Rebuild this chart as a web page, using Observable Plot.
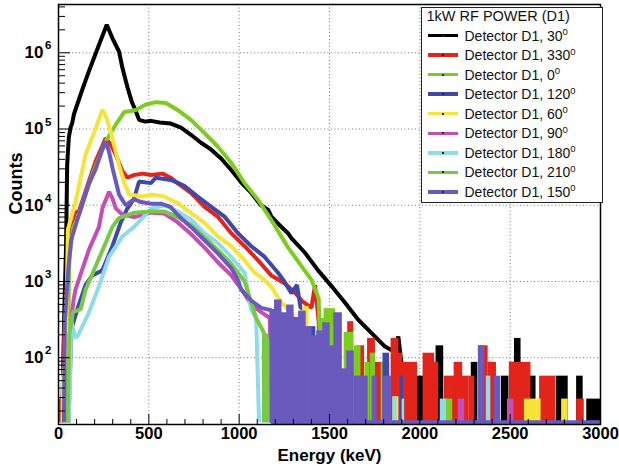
<!DOCTYPE html>
<html><head><meta charset="utf-8">
<script src="https://cdn.jsdelivr.net/npm/d3@7"></script>
<script src="https://cdn.jsdelivr.net/npm/@observablehq/plot@0.6"></script>
<style>
body{margin:0;background:#fff;}
#wrap{position:relative;width:619px;height:475px;font-family:"Liberation Sans",Arial,Helvetica,sans-serif;}
#legend{position:absolute;left:421px;top:7px;width:182px;height:196px;box-sizing:border-box;border:1.5px solid #222;background:#fff;color:#111;}
#legend .title{position:absolute;left:4.5px;top:0px;font-size:14.5px;line-height:16px;white-space:nowrap;}
#legend .row{position:absolute;left:0;height:16px;width:100%;}
#legend .sw{position:absolute;left:5.5px;width:30px;height:3.5px;top:6.25px;}
#legend .dot{position:absolute;left:14px;top:0.75px;width:2px;height:2px;background:#222;}
#legend .lab{position:absolute;left:42.5px;top:0;font-size:14px;line-height:16px;white-space:nowrap;}
#legend .lab span{font-size:9.5px;position:relative;top:-5.5px;}
</style></head><body><div id="wrap"></div>
<script>
// ---- categories / labels ----
const legendTitle = "1kW RF POWER (D1)";
const angles = [30, 330, 0, 120, 60, 90, 180, 210, 150];
const colors = ["#000000", "#e3241b", "#7ccd1e", "#3d48ad", "#f7e438", "#c64db5", "#8fdbe9", "#78c943", "#6a5abd"];
const xMajorTicks = [0, 500, 1000, 1500, 2000, 2500, 3000];
const yMajorTicks = [1e2, 1e3, 1e4, 1e5, 1e6];

// ---- series: main spectrum [energy keV, counts] ----
const s30 = [[20,0],[25,56],[32,400],[42,3000],[48,34000],[57,77000],[67,105000],[76,120000],[85,155000],[130,320000],[168,570000],[220,1200000],[267,2330000],[298,1560000],[335,1040000],[354,630000],[382,350000],[405,230000],[424,180000],[446,132000],[480,125000],[511,128000],[560,122000],[622,118000],[678,104000],[733,84000],[789,66000],[844,54000],[900,41000],[956,29000],[1011,20000],[1067,14500],[1120,10000],[1161,8700],[1178,7100],[1220,5600],[1270,4300],[1289,3700],[1363,2400],[1437,1400],[1511,870],[1585,530],[1659,315],[1733,210],[1807,140],[1860,120],[1881,190],[1900,78],[1905,0]];
const s330 = [[12,0],[12,28],[24,28],[30,150],[45,800],[55,1500],[67,4400],[90,8000],[113,8300],[168,20500],[206,38000],[240,58000],[261,76000],[290,62000],[317,46000],[354,28000],[382,23000],[420,25000],[465,26000],[511,25000],[576,26000],[620,23000],[659,19500],[733,14500],[807,9600],[881,7100],[956,4300],[1030,2900],[1104,1900],[1178,1200],[1250,950],[1300,750],[1350,550],[1400,450],[1420,900],[1440,300],[1450,0]];
const s0 = [[40,0],[50,100],[60,2000],[80,5000],[113,7500],[150,14000],[187,25000],[225,42000],[261,69000],[317,114000],[363,167000],[400,172000],[428,178000],[483,210000],[539,225000],[594,220000],[659,178000],[733,132000],[807,89000],[881,59000],[956,36000],[1030,19500],[1104,11800],[1178,6400],[1270,2800],[1344,1600],[1400,1050],[1440,600],[1460,0]];
const s120 = [[55,0],[62,200],[104,430],[150,900],[187,1200],[243,1400],[270,2000],[298,2900],[344,5900],[380,9000],[417,12000],[446,20500],[511,19500],[539,23000],[622,21500],[696,18000],[770,13000],[844,9600],[919,7100],[993,4300],[1067,2900],[1141,2100],[1215,1300],[1250,1000],[1289,700],[1320,900],[1340,450],[1363,450],[1370,0]];
const s60 = [[22,0],[25,56],[38,85],[45,500],[52,4800],[94,11000],[150,46000],[206,103000],[243,180000],[265,140000],[289,93000],[335,34000],[363,20000],[391,13800],[465,13000],[511,13800],[585,13000],[659,10700],[733,7900],[807,5900],[881,3900],[956,2900],[1030,1900],[1085,1300],[1130,1100],[1178,850],[1233,530],[1289,390],[1333,230],[1340,0]];
const s90 = [[55,0],[67,100],[75,400],[84,580],[94,780],[168,2600],[224,5200],[243,9100],[280,15000],[300,12000],[317,9100],[354,7500],[420,7000],[511,8000],[585,7800],[659,6000],[733,4200],[807,2800],[881,1800],[956,1200],[1011,800],[1067,500],[1120,400],[1170,330],[1175,0]];
const s180 = [[55,0],[62,30],[70,300],[95,180],[110,200],[168,390],[224,870],[280,2100],[354,3900],[418,5200],[470,7000],[511,9000],[585,10000],[659,8300],[733,6500],[807,4300],[881,3200],[956,2100],[1030,1300],[1067,420],[1094,330],[1110,0]];
const s210 = [[50,0],[60,200],[80,400],[122,430],[150,780],[206,1600],[261,3200],[298,5200],[335,6800],[420,8000],[511,8300],[585,8300],[659,7000],[733,5500],[807,3800],[881,2600],[956,1700],[1030,1000],[1094,330],[1122,250],[1161,160],[1170,0]];
const s150 = [[30,0],[35,300],[55,1500],[70,3500],[113,7500],[168,19000],[206,30000],[240,52000],[261,69000],[280,50000],[300,30000],[335,13800],[372,10000],[420,12000],[456,11000],[511,10500],[567,10500],[620,9500],[659,7500],[733,5200],[807,3500],[881,2350],[956,1500],[993,1050],[1011,780],[1067,560],[1122,450],[1178,420],[1180,0],[3000,0]];

// ---- sparse high-energy tails [E1, E2, counts] ----
const t30 = [[1905,1935,78],[1983,2022,56],[2094,2128,140],[2289,2317,85],[2383,2400,85],[2456,2489,56],[2500,2528,85],[2528,2556,175],[2611,2639,56],[2761,2817,56],[2872,2900,56],[2928,3000,28]];
const t330 = [[1440,1470,300],[1470,1500,200],[1530,1560,150],[1605,1630,290],[1660,1690,140],[1715,1750,175],[1750,1790,85],[1845,1880,175],[1880,1900,112],[1900,1983,85],[2022,2078,112],[2078,2100,85],[2139,2194,56],[2194,2233,85],[2239,2267,56],[2275,2300,56],[2333,2374,140],[2383,2420,85],[2500,2611,85],[2667,2750,56],[2872,2906,28]];
const t0 = [[1460,1474,320],[1474,1530,430],[1530,1560,250],[1585,1630,210],[1640,1670,140],[1700,1720,85],[1730,1750,112],[1790,1830,85],[2150,2178,28]];
const t120 = [[1395,1420,250],[1800,1828,112],[1895,1905,56]];
const t60 = [[1355,1383,460],[1383,1420,140],[1455,1475,120],[1530,1550,100],[1567,1590,35],[1855,1880,30],[2583,2667,28],[2789,2817,28]];
const t90 = [[1175,1194,230],[1340,1350,175],[1350,1361,90],[2217,2244,28],[2489,2517,28]];
const t180 = [[1233,1289,160],[1340,1355,200],[1855,1870,30],[1906,1912,28],[2117,2144,28],[2372,2389,56]];
const t210 = [[1133,1161,200]];
const t150 = [[1180,1200,420],[1200,1233,560],[1233,1267,380],[1267,1300,480],[1300,1333,330],[1333,1367,400],[1367,1400,250],[1400,1433,190],[1433,1467,220],[1467,1500,280],[1500,1528,140],[1528,1567,380],[1567,1600,70],[1600,1633,120],[1640,1710,56],[1740,1760,56],[1800,1840,56],[2328,2355,140],[2417,2444,56]];

const mains = [s30, s330, s0, s120, s60, s90, s180, s210, s150];
const tails = [t30, t330, t0, t120, t60, t90, t180, t210, t150];

// ---- layout ----
const W = 619, H = 475, ML = 58, MR = 19, MT = 4, MB = 51;
const PW = W - ML - MR, PH = H - MT - MB;
const YDOM = [13.3, 4.3e6];
const YZERO = 14.2; // zero bins drawn at the bottom edge
const cy = c => (c <= 0 ? YZERO : c);

const xMinor = d3.range(0, 3001, 100).filter(v => v % 500 !== 0);
const yMinor = [];
for (let e = 1; e <= 6; e++) for (let k = 2; k <= 9; k++) { const v = k * 10 ** e; if (v > YDOM[0] && v < YDOM[1]) yMinor.push(v); }
const xGrid = xMajorTicks.filter(v => v > 0 && v < 3000);

const font = "Liberation Sans, Arial, Helvetica, sans-serif";
const marks = [
  Plot.ruleX(xGrid, {x: d => d, stroke: "#777", strokeWidth: 1, strokeDasharray: "1,2.5"}),
  Plot.ruleY(yMajorTicks, {y: d => d, stroke: "#777", strokeWidth: 1, strokeDasharray: "1,2.5"})
];
mains.forEach((m, i) => {
  marks.push(Plot.rect(tails[i], {x1: d => d[0], x2: d => d[1], y1: () => YZERO, y2: d => d[2], fill: colors[i], stroke: colors[i], strokeWidth: 1.5}));
  marks.push(Plot.line(m, {x: d => d[0], y: d => cy(d[1]), stroke: colors[i], strokeWidth: 4, strokeLinejoin: "miter", strokeLinecap: "butt"}));
});
marks.push(
  Plot.tickY(yMinor, {y: d => d, insetRight: PW - 7, stroke: "#000", strokeWidth: 1}),
  Plot.tickY(yMajorTicks, {y: d => d, insetRight: PW - 12, stroke: "#000", strokeWidth: 1}),
  Plot.tickX(xMinor, {x: d => d, insetTop: PH - 5, stroke: "#000", strokeWidth: 1}),
  Plot.tickX(xMajorTicks, {x: d => d, insetTop: PH - 10, stroke: "#000", strokeWidth: 1}),
  Plot.frame({stroke: "#000", strokeWidth: 1.5}),
  Plot.text(xMajorTicks, {x: d => d, frameAnchor: "bottom", dy: 14, text: d => String(d), fontSize: 16.5, fontWeight: "bold", fill: "#000"}),
  Plot.text(yMajorTicks, {y: d => d, frameAnchor: "left", dx: -15, text: () => "10", textAnchor: "end", fontSize: 17, fontWeight: "bold", fill: "#000"}),
  Plot.text(yMajorTicks, {y: d => d, frameAnchor: "left", dx: -7, dy: -7, text: d => String(Math.round(Math.log10(d))), textAnchor: "end", fontSize: 11.5, fontWeight: "bold", fill: "#000"}),
  Plot.text(["Energy (keV)"], {frameAnchor: "bottom", dy: 36, text: d => d, fontSize: 17, fontWeight: "bold", fill: "#000"}),
  Plot.text(["Counts"], {frameAnchor: "left", dx: -42, rotate: -90, text: d => d, fontSize: 18, fontWeight: "bold", fill: "#000"})
);

const chart = Plot.plot({
  width: W, height: H,
  marginLeft: ML, marginRight: MR, marginTop: MT, marginBottom: MB,
  style: {fontFamily: font, background: "#fff"},
  x: {domain: [0, 3000], axis: null},
  y: {type: "log", domain: YDOM, axis: null},
  marks
});
const wrap = document.getElementById("wrap");
wrap.appendChild(chart);

// ---- legend ----
const lg = document.createElement("div");
lg.id = "legend";
const t = document.createElement("div");
t.className = "title"; t.textContent = legendTitle; lg.appendChild(t);
angles.forEach((a, i) => {
  const r = document.createElement("div");
  r.className = "row";
  r.style.top = (27.5 + 19.55 * i - 8) + "px";
  const sw = document.createElement("div");
  sw.className = "sw"; sw.style.background = colors[i];
  const dot = document.createElement("div"); dot.className = "dot"; sw.appendChild(dot);
  const lab = document.createElement("div");
  lab.className = "lab";
  lab.innerHTML = "Detector D1, " + a + "<span>0</span>";
  r.appendChild(sw); r.appendChild(lab);
  lg.appendChild(r);
});
wrap.appendChild(lg);
</script>
</body></html>
